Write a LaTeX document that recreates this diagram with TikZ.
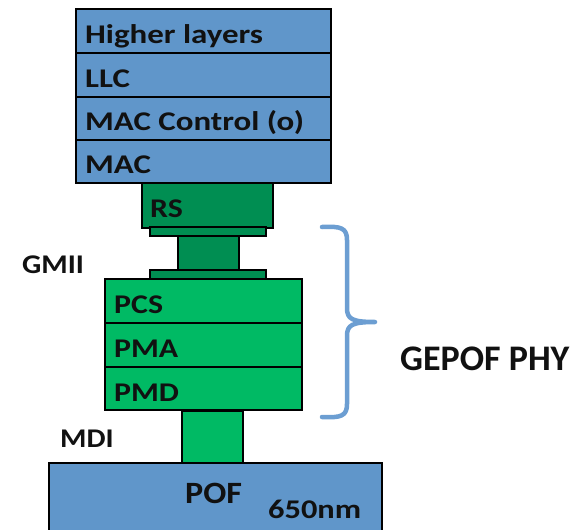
\documentclass[tikz,border=0pt]{standalone}
\usepackage{fontspec}
\usepackage{graphicx}
\setmainfont{Carlito}
\definecolor{layblue}{RGB}{96,150,202}
\definecolor{dkgreen}{RGB}{0,142,82}
\definecolor{ltgreen}{RGB}{0,186,100}
\definecolor{brblue}{RGB}{108,158,210}
\definecolor{txt}{RGB}{17,17,17}
\newcommand{\wlbl}[2]{\scalebox{#1}[1]{#2}}
\tikzset{
  box/.style={draw=black, line width=1.3pt, rectangle, inner sep=0pt, outer sep=0pt},
  lbl/.style={anchor=base west, inner sep=0pt, text=txt, font=\bfseries\fontsize{27}{27}\selectfont},
  pofl/.style={lbl, font=\bfseries\fontsize{31}{31}\selectfont},
  biglbl/.style={lbl, font=\bfseries\fontsize{36}{36}\selectfont},
}
\begin{document}
\begin{tikzpicture}[x=1pt,y=-1pt]
\path[use as bounding box] (0,0) rectangle (581,530);
\begin{scope}
\clip (0,0) rectangle (581,530);
% top blue stack
\node[box, fill=layblue, minimum width=255pt, minimum height=44pt] (hl) at (203.5,31) {};
\node[box, fill=layblue, minimum width=255pt, minimum height=44pt] (llc) at (203.5,75) {};
\node[box, fill=layblue, minimum width=255pt, minimum height=43pt] (macc) at (203.5,118.5) {};
\node[box, fill=layblue, minimum width=255pt, minimum height=43pt] (mac) at (203.5,161.5) {};
% RS and GMII connector
\node[box, fill=dkgreen, minimum width=131pt, minimum height=45pt] (rs) at (207.5,205.5) {};
\node[box, fill=dkgreen, minimum width=61pt, minimum height=34pt] (gmii) at (208.5,253) {};
\node[box, fill=dkgreen, minimum width=116pt, minimum height=9pt] (plA) at (208,231.5) {};
\node[box, fill=dkgreen, minimum width=116pt, minimum height=9pt] (plB) at (208,274.5) {};
% PHY stack
\node[box, fill=ltgreen, minimum width=197pt, minimum height=44pt] (pcs) at (203.5,301) {};
\node[box, fill=ltgreen, minimum width=197pt, minimum height=44pt] (pma) at (203.5,345) {};
\node[box, fill=ltgreen, minimum width=197pt, minimum height=43pt] (pmd) at (203.5,388.5) {};
% MDI connector
\node[box, fill=ltgreen, minimum width=61pt, minimum height=52pt] (mdi) at (212.5,437) {};
% POF
\node[box, fill=layblue, minimum width=333pt, minimum height=90pt] (pof) at (215.5,508) {};
\end{scope}
% labels
\node[lbl] (thl) at (85,43) {\wlbl{1.22}{Higher layers}};
\node[lbl] (tllc) at (85,87) {\wlbl{1.22}{LLC}};
\node[lbl] (tmacc) at (85,130) {\wlbl{1.22}{MAC Control (o)}};
\node[lbl] (tmac) at (85,173) {\wlbl{1.22}{MAC}};
\node[lbl] (trs) at (150,217) {\wlbl{1.18}{RS}};
\node[lbl] (tpcs) at (114,313) {\wlbl{1.18}{PCS}};
\node[lbl] (tpma) at (114,357) {\wlbl{1.18}{PMA}};
\node[lbl] (tpmd) at (114,401) {\wlbl{1.18}{PMD}};
\node[lbl] (tgmii) at (22,273) {\wlbl{1.12}{GMII}};
\node[lbl] (tmdi) at (60,447) {\wlbl{1.12}{MDI}};
\node[pofl] (tpof) at (185,503) {\wlbl{1.1}{POF}};
\node[lbl] (tnm) at (268,518) {\wlbl{1.2}{650nm}};
\node[biglbl] (tphy) at (400,370) {GEPOF PHY};
% brace
\coordinate (bt) at (322,227);
\coordinate (bm) at (375,322);
\coordinate (bb) at (322,417);
\draw[brblue, line width=4.5pt, line cap=round, line join=round]
  (bt) .. controls (341,226) and (347,228) .. (347,240) -- (347,308)
  .. controls (347,319) and (352,322) .. (bm)
  (bm) .. controls (352,322) and (347,325) .. (347,336) -- (347,404)
  .. controls (347,416) and (341,418) .. (bb);
\end{tikzpicture}
\end{document}
